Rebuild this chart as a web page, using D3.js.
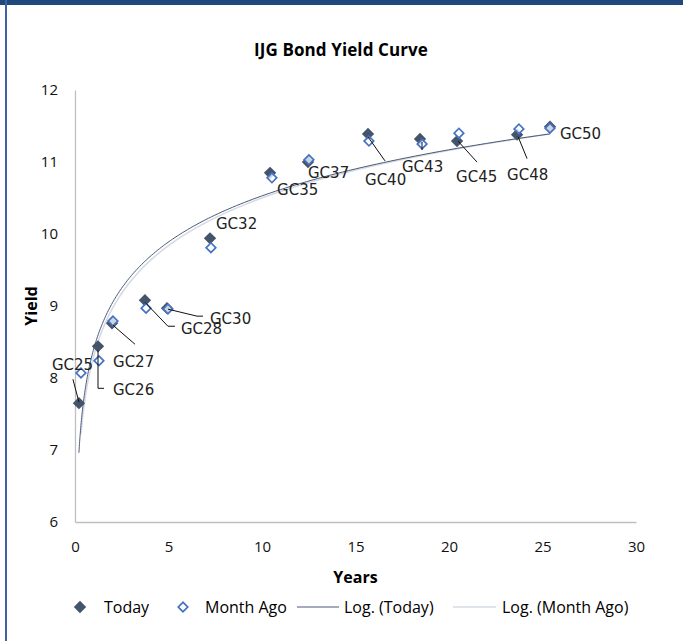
<!DOCTYPE html>
<html>
<head>
<meta charset="utf-8">
<script src="https://cdn.jsdelivr.net/npm/d3@7"></script>
<style>
  html, body { margin: 0; padding: 0; background: #fff; }
  svg { display: block; }
</style>
</head>
<body>
<div id="chart"></div>
<script>
// bonds and their term (years) / yield (%)
const bonds = ["GC25", "GC26", "GC27", "GC28", "GC30", "GC32", "GC35", "GC37", "GC40", "GC43", "GC45", "GC48", "GC50"];
const todayYears = [0.21, 1.23, 1.98, 3.74, 4.92, 7.22, 10.43, 12.46, 15.67, 18.45, 20.43, 23.64, 25.40];
const todayYield = [7.65, 8.44, 8.76, 9.08, 8.97, 9.94, 10.85, 11.00, 11.39, 11.32, 11.29, 11.38, 11.49];
const monthYears = [0.32, 1.28, 2.03, 3.80, 4.97, 7.27, 10.53, 12.51, 15.72, 18.56, 20.53, 23.74, 25.40];
const monthYield = [8.07, 8.24, 8.79, 8.97, 8.96, 9.81, 10.78, 11.03, 11.29, 11.25, 11.40, 11.46, 11.47];
const xTicks = [0, 5, 10, 15, 20, 25, 30];
const yTicks = [6, 7, 8, 9, 10, 11, 12];

// label placement (pixel offsets from the Today marker) and leader lines
const labelPos = {
  GC25: {dx: -27, dy: -39, leader: [[0, -1], [-6, -24]]},
  GC26: {dx: 15, dy: 43, leader: [[0, 4], [0, 42], [6, 42]]},
  GC27: {dx: 1, dy: 38, leader: [[1, 2], [23, 21]]},
  GC28: {dx: 36, dy: 28, leader: [[0, 2], [23, 26], [30, 26]]},
  GC30: {dx: 43, dy: 10, leader: [[1, 1], [30, 8], [36, 8]]},
  GC32: {dx: 6, dy: -15},
  GC35: {dx: 7, dy: 17},
  GC37: {dx: 0, dy: 11},
  GC40: {dx: -3, dy: 46, leader: [[0, 3], [17, 27]]},
  GC43: {dx: -18, dy: 28, leader: [[2, 3], [2, 11]]},
  GC45: {dx: -1, dy: 35, leader: [[1, 0], [20, 21]]},
  GC48: {dx: -10, dy: 40, leader: [[1, 2], [10, 24]]},
  GC50: {dx: 10, dy: 7}
};

const W = 683, H = 641;
const margin = {left: 75, right: 47, top: 90, bottom: 119};
const font = "'Open Sans', sans-serif";

const svg = d3.select("#chart").append("svg")
  .attr("width", W).attr("height", H)
  .attr("viewBox", `0 0 ${W} ${H}`);

// frame: dark band on top and thin line on the left
svg.append("rect").attr("x", 0).attr("y", 0).attr("width", W).attr("height", 5).attr("fill", "#1F497D");
svg.append("rect").attr("x", 5).attr("y", 0).attr("width", 2).attr("height", H).attr("fill", "#3C64A0");

const x = d3.scaleLinear().domain([0, 30]).range([margin.left, W - margin.right]);
const y = d3.scaleLinear().domain([6, 12]).range([H - margin.bottom, margin.top]);

svg.append("text")
  .attr("x", 341).attr("y", 56)
  .attr("text-anchor", "middle")
  .style("font-family", font)
  .style("font-weight", "bold")
  .style("font-size", "17px")
  .style("letter-spacing", "0.1px")
  .text("IJG Bond Yield Curve");

// axes (Excel style: grey axis lines, no ticks)
const xAxis = svg.append("g")
  .attr("transform", `translate(0,${y(6)})`)
  .call(d3.axisBottom(x).tickValues(xTicks).tickFormat(d3.format("d")).tickSize(0).tickPadding(19));
const yAxis = svg.append("g")
  .attr("transform", `translate(${x(0)},0)`)
  .call(d3.axisLeft(y).tickValues(yTicks).tickFormat(d3.format("d")).tickSize(0).tickPadding(17));
[xAxis, yAxis].forEach(g => {
  g.select(".domain").attr("stroke", "#BFBFBF").attr("stroke-width", 1.3);
  g.selectAll("text")
    .style("font-family", font)
    .style("font-size", "15px")
    .attr("fill", "#111");
});

svg.append("text")
  .attr("x", x(15)).attr("y", 583)
  .attr("text-anchor", "middle")
  .style("font-family", font)
  .style("font-weight", "bold").style("font-size", "16px")
  .text("Years");
svg.append("text")
  .attr("transform", `translate(37,${y(9)}) rotate(-90)`)
  .attr("text-anchor", "middle")
  .style("font-family", font)
  .style("font-weight", "bold").style("font-size", "16px")
  .text("Yield");

// logarithmic trendline: least squares fit of yield on ln(years)
function logFit(xs, ys) {
  const lx = xs.map(Math.log);
  const mx = d3.mean(lx), my = d3.mean(ys);
  const a = d3.sum(lx, (v, i) => (v - mx) * (ys[i] - my)) / d3.sum(lx, v => (v - mx) ** 2);
  const b = my - a * mx;
  const [x0, x1] = d3.extent(xs);
  return d3.range(0, 201).map(i => {
    const t = x0 * Math.pow(x1 / x0, i / 200);
    return [t, a * Math.log(t) + b];
  });
}
const line = d3.line().x(d => x(d[0])).y(d => y(d[1]));

svg.append("path").datum(logFit(monthYears, monthYield))
  .attr("d", line).attr("fill", "none").attr("stroke", "#D5DBE5").attr("stroke-width", 1.6);
svg.append("path").datum(logFit(todayYears, todayYield))
  .attr("d", line).attr("fill", "none").attr("stroke", "#4A5A78").attr("stroke-width", 1);

const diamondBig = d3.symbol().type(d3.symbolSquare).size(76);
const diamondSmall = d3.symbol().type(d3.symbolSquare).size(46);

// Today markers
svg.append("g").selectAll("path").data(bonds).join("path")
  .attr("d", diamondBig)
  .attr("transform", (d, i) => `translate(${x(todayYears[i])},${y(todayYield[i])}) rotate(45)`)
  .attr("fill", "#44546A");

// Month ago markers
svg.append("g").selectAll("path").data(bonds).join("path")
  .attr("d", diamondSmall)
  .attr("transform", (d, i) => `translate(${x(monthYears[i])},${y(monthYield[i])}) rotate(45)`)
  .attr("fill", "#fff").attr("fill-opacity", 0.75)
  .attr("stroke", "#4472C4").attr("stroke-width", 1.7);

// data labels with leader lines
const labels = svg.append("g");
bonds.forEach((name, i) => {
  const px = x(todayYears[i]), py = y(todayYield[i]);
  const p = labelPos[name];
  if (p.leader) {
    labels.append("path")
      .attr("d", d3.line()(p.leader.map(([a, b]) => [px + a, py + b])))
      .attr("fill", "none").attr("stroke", "#111").attr("stroke-width", 1);
  }
  labels.append("text")
    .attr("x", px + p.dx).attr("y", py + p.dy)
    .attr("dy", "0.36em")
    .style("font-family", "'DejaVu Sans', sans-serif")
    .style("font-size", "15px")
    .attr("fill", "#222")
    .text(name);
});

// legend
const legend = svg.append("g").attr("transform", "translate(0,607)")
  .style("font-family", font).style("font-size", "16px");
legend.append("path").attr("d", diamondBig).attr("transform", "translate(80,0) rotate(45)").attr("fill", "#44546A");
legend.append("text").attr("x", 104).attr("dy", "0.35em").text("Today");
legend.append("path").attr("d", diamondSmall).attr("transform", "translate(183,0) rotate(45)")
  .attr("fill", "#fff").attr("stroke", "#4472C4").attr("stroke-width", 1.7);
legend.append("text").attr("x", 205).attr("dy", "0.35em").text("Month Ago");
legend.append("line").attr("x1", 297).attr("x2", 339).attr("stroke", "#4A5A78").attr("stroke-width", 1.2);
legend.append("text").attr("x", 344).attr("dy", "0.35em").text("Log. (Today)");
legend.append("line").attr("x1", 453).attr("x2", 496).attr("stroke", "#D5DBE5").attr("stroke-width", 1.6);
legend.append("text").attr("x", 502).attr("dy", "0.35em").text("Log. (Month Ago)");
</script>
</body>
</html>
